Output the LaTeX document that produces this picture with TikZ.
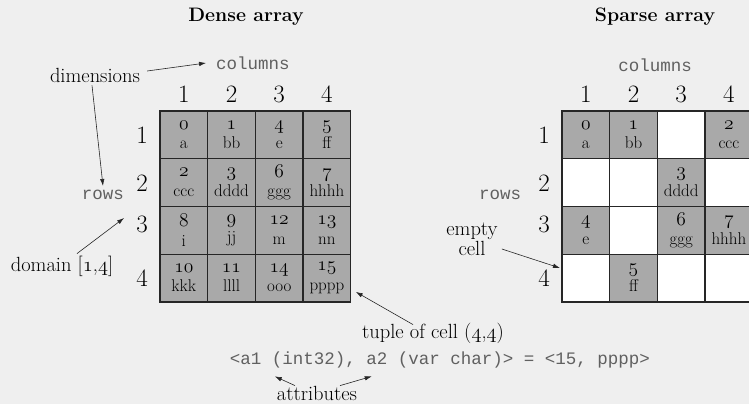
\documentclass[tikz,border=0pt]{standalone}
\usepackage{fontspec}
\setmonofont{Liberation Mono}
\usetikzlibrary{arrows.meta}
\definecolor{bgc}{HTML}{EFEFEF}
\definecolor{cellfill}{HTML}{A9A9A9}
\definecolor{gridline}{HTML}{262626}
\definecolor{codegray}{HTML}{606060}
% old-style figures taken from the math italic font, scalable to any size
\DeclareFontFamily{OML}{osfdig}{}
\DeclareFontShape{OML}{osfdig}{m}{it}{<->cmmi12}{}
\newcommand\osf[1]{{\usefont{OML}{osfdig}{m}{it}#1}}
\newcommand\bigosf[1]{{\fontsize{19.5}{19}\usefont{OML}{osfdig}{m}{it}#1}}
\tikzset{
  cellbox/.style={draw=gridline, line width=1.3pt, minimum width=47.7pt, minimum height=47.7pt,
    inner sep=0pt, outer sep=0pt, align=center, font=\fontsize{17}{19.5}\selectfont},
  full/.style={cellbox, fill=cellfill},
  hole/.style={cellbox, fill=white},
  idx/.style={font=\fontsize{25}{25}\selectfont, inner sep=0pt},
  code/.style={font=\ttfamily\fontsize{17.5}{18}\selectfont, text=codegray, inner sep=0pt},
  lbl/.style={font=\fontsize{20.5}{21}\selectfont, inner sep=0pt, align=center},
  ttl/.style={font=\bfseries\fontsize{19.5}{20}\selectfont, inner sep=0pt},
  pointer/.style={-{Latex[length=7pt,width=4.5pt]}, line width=0.6pt, draw=black!85},
}
\begin{document}
\begin{tikzpicture}[x=1pt, y=-1pt]
  \fill[bgc] (0,0) rectangle (749,404);
  \useasboundingbox (0,0) rectangle (749,404);
  \clip (0,0) rectangle (749,404);

  % ---------------- dense array ----------------
  \node[ttl] (tD) at (246,17) {Dense array};
  \node[code] (colsD) at (253,63) {columns};
  \node[code] (rowsD) at (103,195) {rows};
  \node[lbl] (dim) at (95,75) {dimensions};
  \node[lbl] (dom) at (62,266) {domain [\osf{1},\osf{4}]};

  \foreach \c/\x in {1/183.8, 2/231.5, 3/279.2, 4/326.9}
    \node[idx] (cD\c) at (\x,94) {\c};
  \foreach \r/\y in {1/135, 2/183, 3/224, 4/278}
    \node[idx] (rD\r) at (142,\y) {\r};

  \foreach \r/\y in {1/134.9, 2/182.6, 3/230.3, 4/278.0}{
    \foreach \c/\x in {1/183.8, 2/231.5, 3/279.2, 4/326.9}
      \coordinate (pD\r\c) at (\x,\y);
  }
  \node[full] (d11) at (pD11) {\bigosf{0}\\a};
  \node[full] (d12) at (pD12) {\bigosf{1}\\bb};
  \node[full] (d13) at (pD13) {\bigosf{4}\\e};
  \node[full] (d14) at (pD14) {\bigosf{5}\\ff};
  \node[full] (d21) at (pD21) {\bigosf{2}\\ccc};
  \node[full] (d22) at (pD22) {\bigosf{3}\\dddd};
  \node[full] (d23) at (pD23) {\bigosf{6}\\ggg};
  \node[full] (d24) at (pD24) {\bigosf{7}\\hhhh};
  \node[full] (d31) at (pD31) {\bigosf{8}\\i};
  \node[full] (d32) at (pD32) {\bigosf{9}\\jj};
  \node[full] (d33) at (pD33) {\bigosf{12}\\m};
  \node[full] (d34) at (pD34) {\bigosf{13}\\nn};
  \node[full] (d41) at (pD41) {\bigosf{10}\\kkk};
  \node[full] (d42) at (pD42) {\bigosf{11}\\llll};
  \node[full] (d43) at (pD43) {\bigosf{14}\\ooo};
  \node[full] (d44) at (pD44) {\bigosf{15}\\pppp};

  \node[lbl] (tuple) at (433,333) {tuple of cell (\osf{4},\osf{4})};
  \node[code] (tupval) at (440,360) {<a1 (int32), a2 (var char)> = <15, pppp>};
  \node[lbl] (attr) at (317,393) {attributes};

  \draw[pointer] ([xshift=7pt,yshift=4pt]dim.east) -- ([xshift=-10pt]colsD.west);
  \draw[pointer] ([xshift=-3pt,yshift=-3pt]dim.south) -- ([yshift=4pt]rowsD.north);
  \draw[pointer] ([xshift=15pt,yshift=2pt]dom.north) -- ([xshift=-12pt,yshift=6pt]rD3.west);
  \draw[pointer] ([xshift=-20pt,yshift=-2pt]tuple.north) -- ([xshift=5pt,yshift=10pt]d44.south east);
  \draw[pointer] ([xshift=-22pt,yshift=0pt]attr.north) -- ([xshift=45pt,yshift=-8pt]tupval.south west);
  \draw[pointer] ([xshift=23pt,yshift=0pt]attr.north) -- ([xshift=142pt,yshift=-8pt]tupval.south west);

  % ---------------- sparse array ----------------
  \node[ttl] (tS) at (655,17) {Sparse array};
  \node[code] (colsS) at (655,65) {columns};
  \node[code] (rowsS) at (500,195) {rows};
  \node[lbl] (empty) at (472,239) {empty\\[-1pt]cell};

  \foreach \c/\x in {1/585.8, 2/633.5, 3/681.2, 4/728.9}
    \node[idx] (cS\c) at (\x,94) {\c};
  \foreach \r/\y in {1/135, 2/183, 3/224, 4/278}
    \node[idx] (rS\r) at (544,\y) {\r};

  \foreach \r/\y in {1/134.9, 2/182.6, 3/230.3, 4/278.0}{
    \foreach \c/\x in {1/585.8, 2/633.5, 3/681.2, 4/728.9}
      \coordinate (pS\r\c) at (\x,\y);
  }
  \node[full] (s11) at (pS11) {\bigosf{0}\\a};
  \node[full] (s12) at (pS12) {\bigosf{1}\\bb};
  \node[hole] (s13) at (pS13) {};
  \node[full] (s14) at (pS14) {\bigosf{2}\\ccc};
  \node[hole] (s21) at (pS21) {};
  \node[hole] (s22) at (pS22) {};
  \node[full] (s23) at (pS23) {\bigosf{3}\\dddd};
  \node[hole] (s24) at (pS24) {};
  \node[full] (s31) at (pS31) {\bigosf{4}\\e};
  \node[hole] (s32) at (pS32) {};
  \node[full] (s33) at (pS33) {\bigosf{6}\\ggg};
  \node[full] (s34) at (pS34) {\bigosf{7}\\hhhh};
  \node[hole] (s41) at (pS41) {};
  \node[full] (s42) at (pS42) {\bigosf{5}\\ff};
  \node[hole] (s43) at (pS43) {};
  \node[hole] (s44) at (pS44) {};

  \draw[pointer] ([xshift=4pt,yshift=-10pt]empty.east) -- ([xshift=-2pt,yshift=10pt]s41.west);
\end{tikzpicture}
\end{document}
